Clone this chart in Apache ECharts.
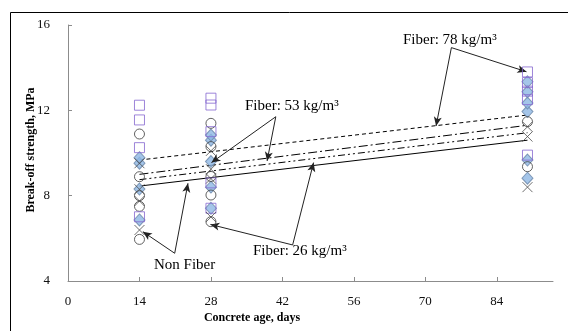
<!DOCTYPE html>
<html>
<head>
<meta charset="utf-8">
<script src="https://cdn.jsdelivr.net/npm/echarts@6/dist/echarts.min.js"></script>
<style>
  html, body { margin: 0; padding: 0; background: #fff; }
  #chart { width: 568px; height: 331px; }
</style>
</head>
<body>
<div id="chart"></div>
<script>
// 龄期 (days)
const ages = [14, 28, 90];
const xTickValues = [0, 14, 28, 42, 56, 70, 84];

// Non Fiber (x markers)
const nonFiber14 = [6.39, 7.75, 8.3, 9.52];
const nonFiber28 = [7.0, 8.8, 9.24, 10.1];
const nonFiber90 = [8.4, 10.77, 11.23];

// Fiber 26 kg/m3 (circles)
const fiber26_14 = [5.95, 7.5, 8.0, 8.89, 10.89];
const fiber26_28 = [6.78, 8.03, 8.9, 10.3, 11.39];
const fiber26_90 = [9.36, 11.47];

// Fiber 53 kg/m3 (diamonds)
const fiber53_14 = [6.86, 8.31, 9.52, 9.78];
const fiber53_28 = [7.41, 8.4, 9.6, 10.6, 10.84];
const fiber53_90 = [8.82, 9.67, 11.94, 12.34, 12.87, 13.34];

// Fiber 78 kg/m3 (squares)
const fiber78_14 = [7.01, 10.25, 11.55, 12.24];
const fiber78_28 = [7.41, 8.6, 11.0, 12.25, 12.57];
const fiber78_90 = [9.9, 12.5, 12.9, 13.3, 13.8];

// 趋势线 values at 14 and 90 days
const trendAges = [14, 90];
const trendNonFiber = [8.45, 10.6];
const trendFiber26 = [8.75, 10.95];
const trendFiber53 = [9.0, 11.3];
const trendFiber78 = [9.67, 11.78];

// 标注箭头: [vertex, tip, tip] in data coordinates
const arrowNonFiber = [[20.9, 5.3], [14.67, 6.31], [23.5, 8.58]];
const arrowFiber26 = [[44.0, 5.69], [27.9, 6.65], [48.1, 9.55]];
const arrowFiber53 = [[40.7, 11.7], [28.1, 9.55], [39.0, 9.63]];
const arrowFiber78 = [[75.1, 14.94], [89.8, 13.81], [72.1, 11.27]];

function pts(groups) {
  const out = [];
  groups.forEach((vals, i) => vals.forEach(v => out.push([ages[i], v])));
  return out;
}
function trend(vals) {
  return vals.map((v, i) => [trendAges[i], v]);
}
function arrows(a) {
  return [
    [{ coord: a[0], symbol: "none" }, { coord: a[1], symbol: "arrow" }],
    [{ coord: a[0], symbol: "none" }, { coord: a[2], symbol: "arrow" }]
  ];
}

const serif = "Liberation Serif";
const chart = echarts.init(document.getElementById("chart"), null, { renderer: "canvas" });

const trendLine = (name, vals, type) => ({
  name: name,
  type: "line",
  data: trend(vals),
  symbol: "none",
  silent: true,
  z: 3,
  lineStyle: { color: "#000", width: 1, type: type }
});

const option = {
  animation: false,
  backgroundColor: "#fff",
  grid: { left: 68, right: 15, top: 25, bottom: 50 },
  xAxis: {
    type: "value",
    min: 0,
    max: 95,
    interval: 14,
    axisLine: { lineStyle: { color: "#8c8c8c", width: 1 } },
    axisTick: { inside: true, length: 4, customValues: xTickValues, lineStyle: { color: "#8c8c8c" } },
    axisLabel: { customValues: xTickValues, margin: 14, fontFamily: serif, fontSize: 13, color: "#111" },
    splitLine: { show: false }
  },
  yAxis: {
    type: "value",
    min: 4,
    max: 16,
    interval: 4,
    axisLine: { show: true, lineStyle: { color: "#8c8c8c", width: 1 } },
    axisTick: { show: true, inside: true, length: 4, lineStyle: { color: "#8c8c8c" } },
    axisLabel: { margin: 18, fontFamily: serif, fontSize: 13, color: "#111" },
    splitLine: { show: false }
  },
  series: [
    {
      name: "Fiber 53",
      type: "scatter",
      data: pts([fiber53_14, fiber53_28, fiber53_90]),
      symbol: "diamond",
      symbolSize: [11, 12],
      itemStyle: { color: "#8db6e4", borderColor: "#6a86a8", borderWidth: 1 },
      z: 4
    },
    {
      name: "Fiber 26",
      type: "scatter",
      data: pts([fiber26_14, fiber26_28, fiber26_90]),
      symbol: "circle",
      symbolSize: 10,
      itemStyle: { color: "rgba(0,0,0,0)", borderColor: "#3c3c3c", borderWidth: 1 },
      z: 5
    },
    {
      name: "Fiber 78",
      type: "scatter",
      data: pts([fiber78_14, fiber78_28, fiber78_90]),
      symbol: "rect",
      symbolSize: 10,
      itemStyle: { color: "rgba(0,0,0,0)", borderColor: "#8466d0", borderWidth: 1 },
      z: 5
    },
    {
      name: "Non Fiber",
      type: "scatter",
      data: pts([nonFiber14, nonFiber28, nonFiber90]),
      symbol: "path://M0,0L10,10M10,0L0,10",
      symbolSize: 10,
      itemStyle: { color: "rgba(0,0,0,0)", borderColor: "#4a4a4a", borderWidth: 1 },
      z: 5
    },
    trendLine("Trend Non Fiber", trendNonFiber, "solid"),
    trendLine("Trend Fiber 26", trendFiber26, [7, 3, 2, 3, 2, 3]),
    trendLine("Trend Fiber 53", trendFiber53, [9, 3, 2, 3]),
    trendLine("Trend Fiber 78", trendFiber78, [4, 3]),
    {
      name: "arrows",
      type: "line",
      data: [],
      silent: true,
      markLine: {
        silent: true,
        animation: false,
        symbolSize: [6, 9],
        label: { show: false },
        lineStyle: { color: "#222", width: 1, type: "solid" },
        data: [].concat(arrows(arrowNonFiber), arrows(arrowFiber26), arrows(arrowFiber53), arrows(arrowFiber78))
      }
    }
  ],
  graphic: [
    {
      type: "rect",
      shape: { x: 10.5, y: 12.5, width: 700, height: 500 },
      style: { fill: "none", stroke: "#000", lineWidth: 1 },
      silent: true,
      z: -1
    },
    {
      type: "text",
      x: 31, y: 150,
      rotation: Math.PI / 2,
      style: {
        text: "Break-off strength, MPa",
        font: "bold 12px 'Liberation Serif'",
        fill: "#000",
        align: "center",
        verticalAlign: "middle"
      }
    },
    {
      type: "text",
      x: 252, y: 318,
      style: {
        text: "Concrete age, days",
        font: "bold 12px 'Liberation Serif'",
        fill: "#000",
        align: "center",
        verticalAlign: "middle"
      }
    },
    {
      type: "text", x: 154, y: 265,
      style: { text: "Non Fiber", font: "15px 'Liberation Serif'", fill: "#000", verticalAlign: "middle" }
    },
    {
      type: "text", x: 253, y: 251,
      style: { text: "Fiber: 26 kg/m³", font: "15px 'Liberation Serif'", fill: "#000", verticalAlign: "middle" }
    },
    {
      type: "text", x: 245, y: 106,
      style: { text: "Fiber: 53 kg/m³", font: "15px 'Liberation Serif'", fill: "#000", verticalAlign: "middle" }
    },
    {
      type: "text", x: 403, y: 40,
      style: { text: "Fiber: 78 kg/m³", font: "15px 'Liberation Serif'", fill: "#000", verticalAlign: "middle" }
    }
  ]
};

chart.setOption(option);
</script>
</body>
</html>
